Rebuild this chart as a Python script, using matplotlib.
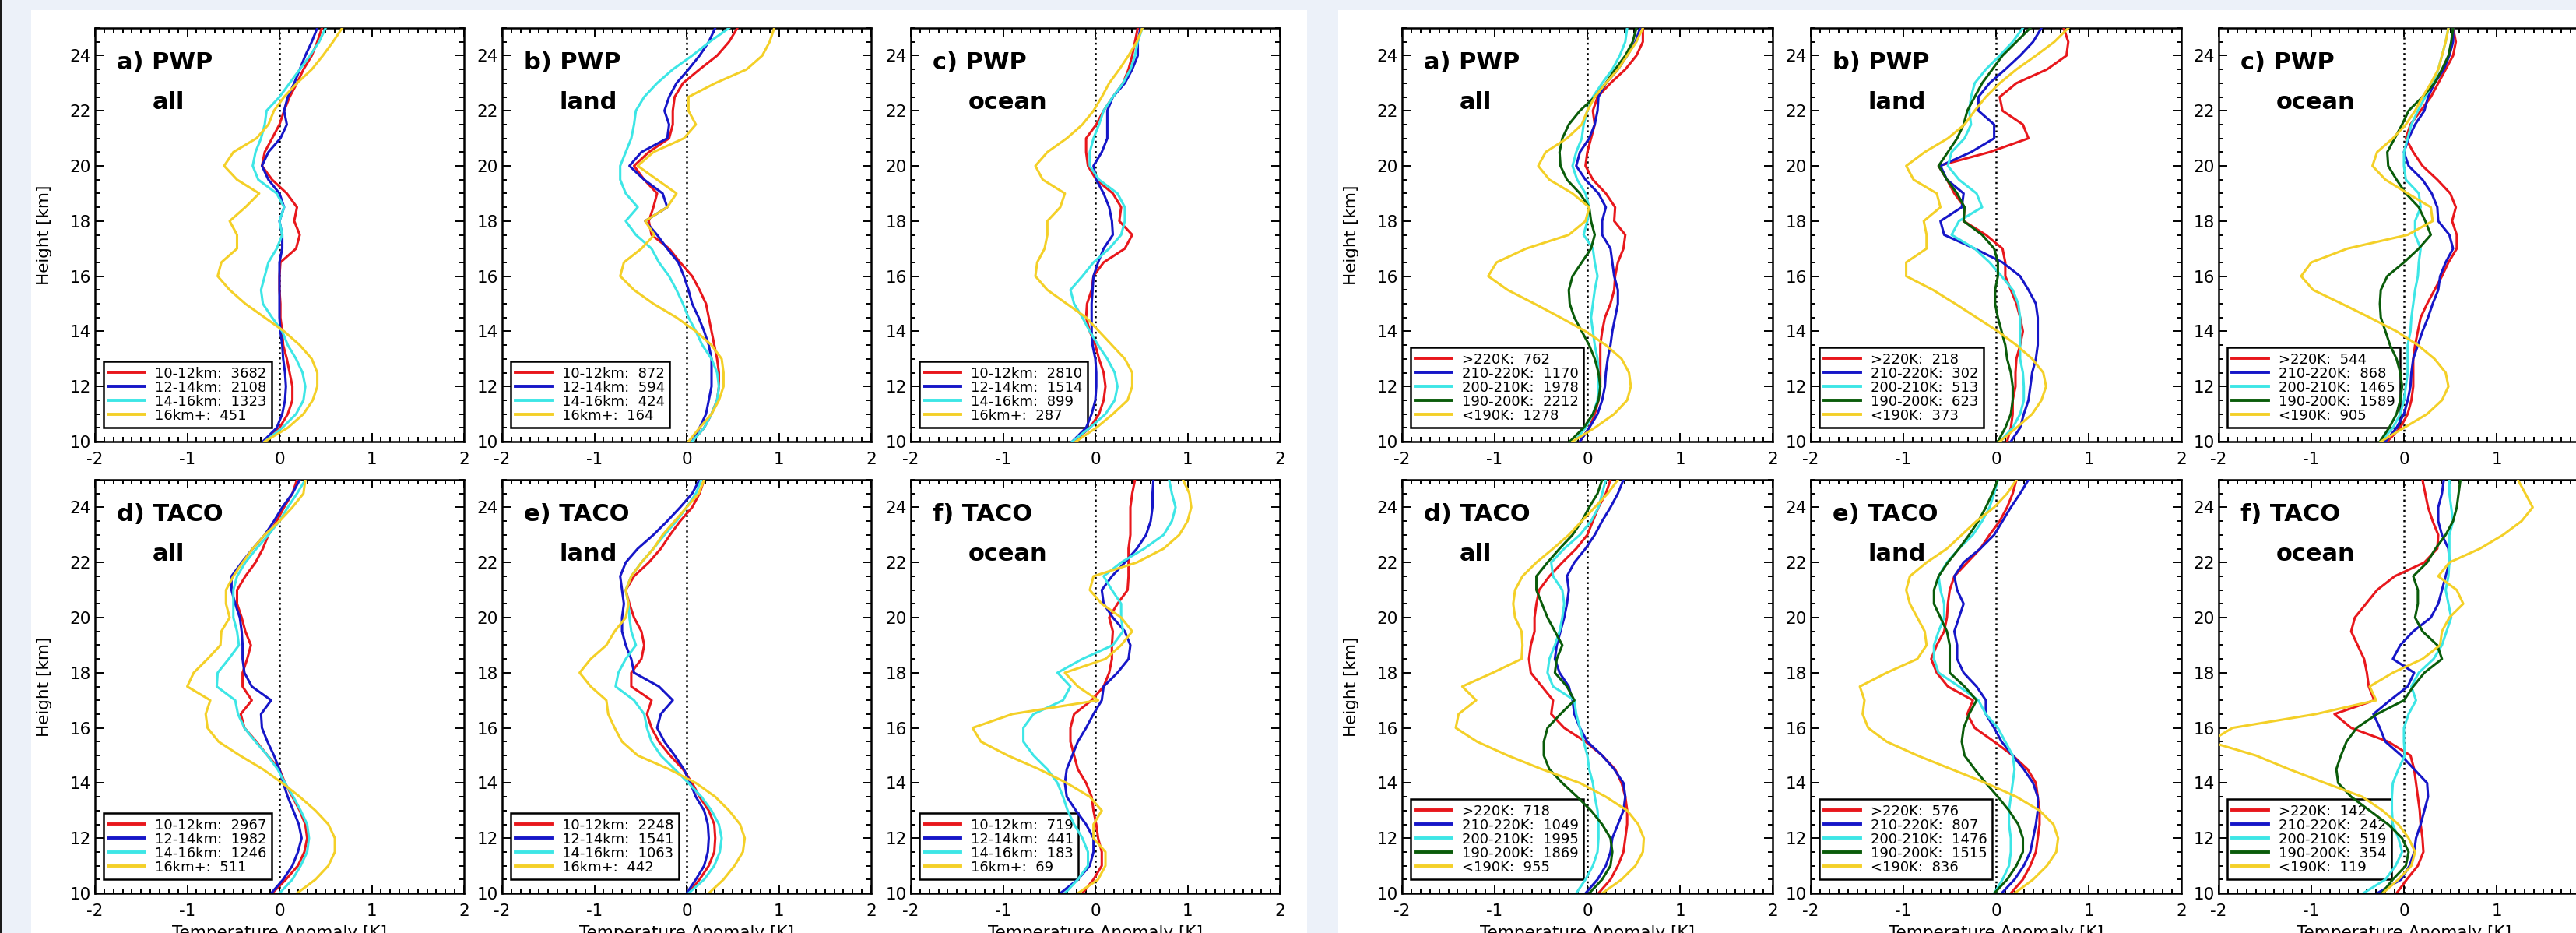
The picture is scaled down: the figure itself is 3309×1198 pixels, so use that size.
import matplotlib
matplotlib.use('Agg')
import matplotlib.pyplot as plt
from matplotlib.patches import Rectangle
from matplotlib.ticker import MultipleLocator

plt.rcParams['font.family'] = 'DejaVu Sans'
plt.rcParams['axes.unicode_minus'] = False

W, H = 3309, 1198

# sampling heights [km]
height = [10.0, 10.5, 11.0, 11.5, 12.0, 12.5, 13.0, 13.5, 14.0, 14.5, 15.0,
          15.5, 16.0, 16.5, 17.0, 17.5, 18.0, 18.5, 19.0, 19.5, 20.0, 20.5,
          21.0, 21.5, 22.0, 22.5, 23.0, 23.5, 24.0, 24.5, 25.0]

# ---- left group: binned by cloud-top height ----
ht_labels = ['10-12km', '12-14km', '14-16km', '16km+']

ht_pwp_all_10_12 = [-0.16, 0, 0.09, 0.14, 0.14, 0.11, 0.08, 0.04, 0.03, 0.01, 0.01, 0, 0, 0.01, 0.18, 0.22, 0.16, 0.19, 0.08, -0.08, -0.19, -0.16, -0.08, 0, 0.05, 0.11, 0.19, 0.26, 0.35, 0.41, 0.46]
ht_pwp_all_12_14 = [-0.18, -0.03, 0.03, 0.06, 0.07, 0.06, 0.04, 0.03, 0.01, 0, 0, 0, 0, 0, 0.03, 0.03, 0, 0.05, 0, -0.12, -0.19, -0.12, 0.01, 0.08, 0.05, 0.09, 0.16, 0.22, 0.28, 0.35, 0.41]
ht_pwp_all_14_16 = [-0.16, 0.03, 0.18, 0.26, 0.28, 0.25, 0.18, 0.09, 0.03, -0.08, -0.18, -0.2, -0.16, -0.12, -0.03, 0.03, 0, 0.05, -0.03, -0.23, -0.29, -0.26, -0.2, -0.16, -0.14, 0, 0.11, 0.22, 0.33, 0.43, 0.5]
ht_pwp_all_16p = [-0.16, 0.09, 0.26, 0.36, 0.41, 0.41, 0.35, 0.22, 0.05, -0.16, -0.37, -0.54, -0.67, -0.63, -0.46, -0.46, -0.54, -0.37, -0.22, -0.46, -0.6, -0.5, -0.25, -0.12, -0.06, 0.05, 0.19, 0.35, 0.47, 0.58, 0.68]
ht_pwp_all_n = [3682, 2108, 1323, 451]

ht_pwp_land_10_12 = [0.06, 0.19, 0.27, 0.33, 0.35, 0.35, 0.33, 0.3, 0.27, 0.24, 0.21, 0.14, 0.06, -0.07, -0.19, -0.38, -0.41, -0.36, -0.32, -0.46, -0.57, -0.41, -0.19, -0.15, -0.15, -0.13, -0.04, 0.14, 0.33, 0.46, 0.55]
ht_pwp_land_12_14 = [0.06, 0.14, 0.21, 0.24, 0.27, 0.27, 0.27, 0.24, 0.19, 0.13, 0.06, 0.02, -0.03, -0.09, -0.21, -0.32, -0.45, -0.21, -0.26, -0.46, -0.62, -0.49, -0.21, -0.19, -0.24, -0.19, -0.11, 0.02, 0.14, 0.24, 0.31]
ht_pwp_land_14_16 = [0.06, 0.19, 0.27, 0.33, 0.35, 0.33, 0.27, 0.17, 0.1, 0.02, -0.04, -0.11, -0.19, -0.3, -0.38, -0.55, -0.66, -0.53, -0.66, -0.72, -0.72, -0.66, -0.6, -0.57, -0.55, -0.46, -0.32, -0.15, 0.06, 0.25, 0.46]
ht_pwp_land_16p = [0.02, 0.14, 0.27, 0.35, 0.4, 0.4, 0.38, 0.27, 0.1, -0.11, -0.36, -0.57, -0.72, -0.68, -0.49, -0.35, -0.45, -0.21, -0.11, -0.32, -0.53, -0.36, -0.03, 0.1, 0.02, 0.02, 0.31, 0.65, 0.82, 0.9, 0.95]
ht_pwp_land_n = [872, 594, 424, 164]

ht_pwp_ocean_10_12 = [-0.23, -0.06, 0.04, 0.09, 0.11, 0.09, 0.04, 0, -0.06, -0.1, -0.09, -0.04, -0.02, 0.09, 0.32, 0.4, 0.26, 0.28, 0.19, 0.01, -0.08, -0.1, -0.1, 0.01, 0.09, 0.19, 0.3, 0.36, 0.4, 0.43, 0.46]
ht_pwp_ocean_12_14 = [-0.25, -0.1, -0.04, 0, 0.01, 0.01, 0, -0.03, -0.04, -0.04, -0.04, -0.03, -0.02, 0.03, 0.09, 0.19, 0.18, 0.15, 0.09, 0.01, -0.02, 0.07, 0.13, 0.13, 0.13, 0.19, 0.32, 0.4, 0.46, 0.46, 0.49]
ht_pwp_ocean_14_16 = [-0.25, -0.06, 0.11, 0.21, 0.24, 0.21, 0.13, 0.03, -0.06, -0.14, -0.23, -0.27, -0.14, -0.02, 0.15, 0.28, 0.32, 0.32, 0.24, 0.04, -0.06, -0.06, -0.02, 0.04, 0.09, 0.19, 0.3, 0.38, 0.43, 0.46, 0.51]
ht_pwp_ocean_16p = [-0.21, 0.01, 0.19, 0.35, 0.4, 0.4, 0.32, 0.18, 0.04, -0.1, -0.31, -0.52, -0.65, -0.63, -0.55, -0.52, -0.52, -0.38, -0.33, -0.57, -0.65, -0.52, -0.31, -0.14, -0.02, 0.07, 0.15, 0.26, 0.36, 0.45, 0.51]
ht_pwp_ocean_n = [2810, 1514, 899, 287]

ht_taco_all_10_12 = [-0.08, 0.07, 0.2, 0.27, 0.3, 0.28, 0.22, 0.14, 0.06, 0, -0.13, -0.25, -0.38, -0.42, -0.3, -0.4, -0.4, -0.35, -0.31, -0.37, -0.41, -0.46, -0.46, -0.37, -0.26, -0.18, -0.12, -0.03, 0.05, 0.14, 0.19]
ht_taco_all_12_14 = [-0.09, 0.04, 0.14, 0.2, 0.24, 0.21, 0.15, 0.09, 0.04, 0, -0.06, -0.13, -0.19, -0.2, -0.09, -0.3, -0.38, -0.4, -0.4, -0.41, -0.43, -0.48, -0.52, -0.52, -0.41, -0.29, -0.16, -0.06, 0.03, 0.14, 0.22]
ht_taco_all_14_16 = [0, 0.14, 0.23, 0.3, 0.32, 0.3, 0.23, 0.15, 0.06, -0.02, -0.13, -0.26, -0.38, -0.45, -0.48, -0.68, -0.67, -0.55, -0.44, -0.46, -0.5, -0.5, -0.5, -0.46, -0.37, -0.25, -0.12, 0, 0.09, 0.19, 0.28]
ht_taco_all_16p = [0.19, 0.39, 0.53, 0.6, 0.6, 0.53, 0.39, 0.22, 0.03, -0.18, -0.43, -0.66, -0.78, -0.8, -0.75, -1.0, -0.93, -0.78, -0.64, -0.63, -0.54, -0.58, -0.58, -0.5, -0.4, -0.29, -0.16, 0, 0.14, 0.26, 0.28]
ht_taco_all_n = [2967, 1982, 1246, 511]

ht_taco_land_10_12 = [0.02, 0.14, 0.24, 0.3, 0.31, 0.3, 0.24, 0.14, 0.06, -0.04, -0.18, -0.3, -0.38, -0.43, -0.38, -0.6, -0.6, -0.49, -0.46, -0.49, -0.57, -0.62, -0.66, -0.57, -0.41, -0.28, -0.18, -0.07, 0.06, 0.14, 0.19]
ht_taco_land_12_14 = [0, 0.1, 0.19, 0.23, 0.24, 0.23, 0.19, 0.1, 0.04, -0.03, -0.13, -0.24, -0.32, -0.28, -0.15, -0.3, -0.57, -0.6, -0.66, -0.7, -0.7, -0.68, -0.7, -0.72, -0.66, -0.53, -0.36, -0.21, -0.07, 0.06, 0.14]
ht_taco_land_14_16 = [0.02, 0.19, 0.3, 0.36, 0.38, 0.35, 0.27, 0.16, 0.02, -0.13, -0.28, -0.38, -0.43, -0.46, -0.57, -0.77, -0.74, -0.66, -0.55, -0.6, -0.62, -0.63, -0.66, -0.6, -0.49, -0.36, -0.24, -0.11, 0, 0.1, 0.16]
ht_taco_land_16p = [0.24, 0.4, 0.52, 0.61, 0.63, 0.58, 0.46, 0.31, 0.1, -0.19, -0.53, -0.7, -0.78, -0.85, -0.87, -1.04, -1.16, -1.04, -0.87, -0.78, -0.66, -0.63, -0.66, -0.6, -0.49, -0.36, -0.26, -0.13, 0, 0.13, 0.19]
ht_taco_land_n = [2248, 1541, 1063, 442]

ht_taco_ocean_10_12 = [-0.14, -0.02, 0.07, 0.07, 0.03, 0.01, -0.02, -0.04, -0.1, -0.19, -0.23, -0.27, -0.27, -0.23, -0.04, 0.09, 0.15, 0.18, 0.18, 0.19, 0.15, 0.24, 0.35, 0.36, 0.36, 0.36, 0.38, 0.38, 0.38, 0.4, 0.43]
ht_taco_ocean_12_14 = [-0.38, -0.19, -0.06, -0.02, -0.02, -0.1, -0.21, -0.31, -0.33, -0.31, -0.25, -0.19, -0.1, -0.02, 0.07, 0.09, 0.24, 0.36, 0.38, 0.32, 0.19, 0.09, 0.07, 0.18, 0.32, 0.45, 0.55, 0.6, 0.62, 0.62, 0.63]
ht_taco_ocean_14_16 = [-0.33, -0.19, -0.08, -0.08, -0.14, -0.23, -0.3, -0.35, -0.41, -0.52, -0.67, -0.78, -0.78, -0.67, -0.35, -0.27, -0.41, -0.14, 0.19, 0.3, 0.28, 0.28, 0.18, 0.09, 0.28, 0.53, 0.74, 0.83, 0.87, 0.83, 0.8]
ht_taco_ocean_16p = [-0.19, 0.03, 0.11, 0.11, -0.02, -0.02, 0.07, -0.06, -0.31, -0.61, -0.95, -1.24, -1.33, -0.9, 0.03, -0.19, -0.33, 0.11, 0.28, 0.4, 0.28, 0.07, -0.06, -0.02, 0.45, 0.74, 0.91, 1.0, 1.04, 1.02, 0.95]
ht_taco_ocean_n = [719, 441, 183, 69]

# ---- right group: binned by cloud-top temperature ----
tb_labels = ['>220K', '210-220K', '200-210K', '190-200K', '<190K']

tb_pwp_all_gt220 = [-0.08, 0.02, 0.08, 0.12, 0.14, 0.14, 0.14, 0.14, 0.16, 0.19, 0.25, 0.29, 0.3, 0.33, 0.39, 0.41, 0.29, 0.3, 0.2, 0.06, -0.02, 0, 0.04, 0.08, 0.06, 0.11, 0.25, 0.41, 0.53, 0.6, 0.6]
tb_pwp_all_210_220 = [-0.08, 0.02, 0.11, 0.16, 0.19, 0.2, 0.22, 0.25, 0.27, 0.3, 0.33, 0.33, 0.29, 0.27, 0.25, 0.16, 0.16, 0.2, 0.12, -0.02, -0.12, -0.08, 0.02, 0.08, 0.11, 0.12, 0.2, 0.33, 0.43, 0.52, 0.57]
tb_pwp_all_200_210 = [-0.14, -0.02, 0.06, 0.11, 0.12, 0.12, 0.11, 0.08, 0.06, 0.04, 0.06, 0.08, 0.11, 0.08, 0.06, -0.04, 0, 0.02, -0.02, -0.11, -0.16, -0.12, -0.06, -0.04, 0, 0.06, 0.16, 0.27, 0.35, 0.41, 0.43]
tb_pwp_all_190_200 = [-0.19, -0.04, 0.06, 0.12, 0.14, 0.12, 0.08, 0.02, -0.06, -0.14, -0.19, -0.2, -0.16, -0.06, 0.04, 0.08, 0.04, 0.02, -0.08, -0.22, -0.29, -0.3, -0.27, -0.2, -0.08, 0.08, 0.2, 0.3, 0.41, 0.49, 0.53]
tb_pwp_all_lt190 = [-0.16, 0.08, 0.29, 0.43, 0.47, 0.45, 0.37, 0.2, -0.02, -0.29, -0.57, -0.86, -1.07, -0.98, -0.66, -0.2, -0.02, 0.02, -0.16, -0.41, -0.53, -0.45, -0.22, -0.06, 0, 0.08, 0.2, 0.33, 0.43, 0.53, 0.6]
tb_pwp_all_n = [762, 1170, 1978, 2212, 1278]

tb_pwp_land_gt220 = [0.12, 0.16, 0.18, 0.18, 0.21, 0.21, 0.22, 0.26, 0.29, 0.26, 0.22, 0.16, 0.1, 0.1, 0.07, -0.11, -0.35, -0.34, -0.45, -0.53, -0.62, -0.07, 0.35, 0.29, 0.07, 0.04, 0.22, 0.55, 0.76, 0.78, 0.73]
tb_pwp_land_210_220 = [0.16, 0.26, 0.3, 0.35, 0.37, 0.39, 0.43, 0.45, 0.45, 0.45, 0.43, 0.35, 0.26, 0.07, -0.23, -0.56, -0.6, -0.37, -0.35, -0.53, -0.6, -0.27, -0.02, -0.02, -0.19, -0.19, -0.07, 0.1, 0.26, 0.4, 0.49]
tb_pwp_land_200_210 = [0.04, 0.18, 0.26, 0.3, 0.3, 0.29, 0.26, 0.26, 0.26, 0.26, 0.24, 0.18, 0.06, -0.07, -0.23, -0.48, -0.4, -0.15, -0.21, -0.4, -0.52, -0.48, -0.34, -0.27, -0.29, -0.27, -0.23, -0.11, 0.04, 0.18, 0.29]
tb_pwp_land_190_200 = [0.02, 0.1, 0.16, 0.18, 0.18, 0.16, 0.12, 0.1, 0.06, 0.02, -0.01, -0.01, 0.02, 0.02, -0.02, -0.15, -0.35, -0.34, -0.42, -0.53, -0.62, -0.52, -0.42, -0.35, -0.31, -0.23, -0.15, -0.04, 0.07, 0.22, 0.37]
tb_pwp_land_lt190 = [0.04, 0.22, 0.39, 0.49, 0.54, 0.51, 0.39, 0.22, 0.02, -0.21, -0.44, -0.68, -0.97, -0.97, -0.75, -0.75, -0.78, -0.6, -0.64, -0.89, -0.97, -0.77, -0.52, -0.34, -0.23, -0.11, 0.04, 0.22, 0.43, 0.63, 0.78]
tb_pwp_land_n = [218, 302, 513, 623, 373]

tb_pwp_ocean_gt220 = [-0.18, -0.04, 0.04, 0.08, 0.1, 0.1, 0.1, 0.12, 0.15, 0.18, 0.25, 0.33, 0.41, 0.48, 0.57, 0.57, 0.52, 0.56, 0.5, 0.36, 0.2, 0.1, 0.02, 0.07, 0.18, 0.29, 0.37, 0.45, 0.53, 0.56, 0.53]
tb_pwp_ocean_210_220 = [-0.2, -0.08, 0, 0.04, 0.07, 0.08, 0.1, 0.15, 0.2, 0.26, 0.31, 0.37, 0.39, 0.45, 0.53, 0.49, 0.37, 0.36, 0.3, 0.2, 0.05, 0, 0.05, 0.12, 0.22, 0.26, 0.33, 0.43, 0.49, 0.53, 0.53]
tb_pwp_ocean_200_210 = [-0.25, -0.12, -0.04, 0, 0.02, 0.04, 0.04, 0.04, 0.07, 0.08, 0.1, 0.12, 0.15, 0.16, 0.18, 0.12, 0.12, 0.18, 0.16, 0.02, 0, 0, 0.04, 0.08, 0.15, 0.23, 0.31, 0.37, 0.41, 0.45, 0.48]
tb_pwp_ocean_190_200 = [-0.26, -0.16, -0.08, -0.04, -0.02, -0.04, -0.08, -0.15, -0.2, -0.25, -0.26, -0.25, -0.18, 0, 0.16, 0.29, 0.23, 0.16, 0.02, -0.08, -0.17, -0.18, -0.1, -0.02, 0.05, 0.2, 0.33, 0.41, 0.48, 0.51, 0.53]
tb_pwp_ocean_lt190 = [-0.25, 0, 0.25, 0.41, 0.48, 0.45, 0.33, 0.15, -0.08, -0.37, -0.67, -0.98, -1.11, -1.0, -0.61, 0.04, 0.31, 0.29, 0.04, -0.2, -0.34, -0.29, -0.12, 0.02, 0.12, 0.2, 0.29, 0.37, 0.41, 0.45, 0.48]
tb_pwp_ocean_n = [544, 868, 1465, 1589, 905]

tb_taco_all_gt220 = [0.12, 0.25, 0.33, 0.39, 0.41, 0.43, 0.43, 0.41, 0.37, 0.3, 0.16, -0.02, -0.25, -0.39, -0.37, -0.49, -0.61, -0.63, -0.61, -0.57, -0.57, -0.55, -0.52, -0.41, -0.27, -0.12, 0, 0.06, 0.12, 0.2, 0.25]
tb_taco_all_210_220 = [-0.02, 0.11, 0.2, 0.25, 0.27, 0.33, 0.39, 0.41, 0.39, 0.29, 0.16, 0, -0.08, -0.14, -0.16, -0.2, -0.3, -0.35, -0.33, -0.29, -0.25, -0.22, -0.2, -0.22, -0.14, -0.02, 0.08, 0.16, 0.25, 0.33, 0.39]
tb_taco_all_200_210 = [-0.12, -0.02, 0.06, 0.11, 0.12, 0.12, 0.11, 0.08, 0.06, 0.02, 0, -0.04, -0.08, -0.12, -0.14, -0.37, -0.43, -0.41, -0.35, -0.3, -0.27, -0.25, -0.27, -0.37, -0.39, -0.25, -0.08, 0.04, 0.12, 0.16, 0.2]
tb_taco_all_190_200 = [0.02, 0.16, 0.25, 0.27, 0.25, 0.16, 0.04, -0.11, -0.27, -0.41, -0.47, -0.47, -0.43, -0.29, -0.14, -0.22, -0.35, -0.33, -0.27, -0.35, -0.43, -0.49, -0.55, -0.55, -0.43, -0.3, -0.16, -0.06, 0.02, 0.11, 0.16]
tb_taco_all_lt190 = [0.16, 0.37, 0.52, 0.6, 0.61, 0.55, 0.43, 0.2, -0.08, -0.49, -0.86, -1.19, -1.42, -1.39, -1.2, -1.35, -1.02, -0.71, -0.7, -0.71, -0.78, -0.8, -0.78, -0.7, -0.55, -0.37, -0.2, -0.06, 0.08, 0.22, 0.33]
tb_taco_all_n = [718, 1049, 1995, 1869, 955]

tb_taco_land_gt220 = [0.16, 0.29, 0.37, 0.43, 0.45, 0.47, 0.47, 0.45, 0.43, 0.34, 0.18, -0.02, -0.23, -0.31, -0.25, -0.52, -0.64, -0.7, -0.64, -0.56, -0.53, -0.52, -0.5, -0.45, -0.31, -0.17, -0.07, 0.04, 0.12, 0.18, 0.22]
tb_taco_land_210_220 = [0.06, 0.2, 0.3, 0.37, 0.4, 0.43, 0.45, 0.45, 0.4, 0.3, 0.18, 0.06, -0.02, -0.11, -0.11, -0.21, -0.35, -0.42, -0.42, -0.45, -0.4, -0.35, -0.42, -0.45, -0.35, -0.17, -0.02, 0.07, 0.16, 0.26, 0.35]
tb_taco_land_200_210 = [-0.02, 0.07, 0.14, 0.16, 0.16, 0.14, 0.14, 0.16, 0.18, 0.2, 0.18, 0.1, 0.02, -0.11, -0.19, -0.4, -0.62, -0.67, -0.67, -0.62, -0.56, -0.56, -0.6, -0.62, -0.53, -0.4, -0.25, -0.15, -0.07, -0.02, 0.02]
tb_taco_land_190_200 = [-0.02, 0.12, 0.22, 0.29, 0.29, 0.24, 0.14, 0.02, -0.11, -0.23, -0.34, -0.37, -0.35, -0.29, -0.21, -0.34, -0.5, -0.5, -0.5, -0.53, -0.6, -0.67, -0.67, -0.62, -0.52, -0.4, -0.29, -0.19, -0.11, -0.04, 0.02]
tb_taco_land_lt190 = [0.2, 0.4, 0.55, 0.65, 0.67, 0.62, 0.47, 0.22, -0.11, -0.48, -0.85, -1.18, -1.38, -1.44, -1.42, -1.47, -1.18, -0.85, -0.75, -0.77, -0.85, -0.93, -0.97, -0.93, -0.75, -0.53, -0.37, -0.21, -0.02, 0.12, 0.22]
tb_taco_land_n = [576, 807, 1476, 1515, 836]

tb_taco_ocean_gt220 = [-0.08, 0.03, 0.15, 0.21, 0.2, 0.18, 0.17, 0.15, 0.13, 0.11, 0.07, -0.17, -0.57, -0.75, -0.32, -0.38, -0.4, -0.43, -0.5, -0.57, -0.53, -0.41, -0.29, -0.1, 0.22, 0.36, 0.37, 0.31, 0.26, 0.23, 0.2]
tb_taco_ocean_210_220 = [-0.29, -0.03, 0.06, 0.11, 0.13, 0.18, 0.22, 0.26, 0.25, 0.11, -0.03, -0.2, -0.26, -0.33, -0.15, 0.04, 0.11, -0.12, -0.04, 0.1, 0.29, 0.37, 0.41, 0.45, 0.49, 0.48, 0.41, 0.37, 0.37, 0.41, 0.43]
tb_taco_ocean_200_210 = [-0.44, -0.2, -0.09, -0.02, -0.06, -0.12, -0.13, -0.13, -0.12, -0.06, 0.01, 0, 0, 0.05, 0.13, 0.08, 0.16, 0.32, 0.41, 0.46, 0.51, 0.48, 0.45, 0.48, 0.49, 0.49, 0.49, 0.53, 0.51, 0.49, 0.49]
tb_taco_ocean_190_200 = [-0.24, -0.12, 0.02, 0.05, -0.02, -0.17, -0.37, -0.57, -0.71, -0.73, -0.68, -0.62, -0.51, -0.29, 0, 0.1, 0.22, 0.41, 0.36, 0.2, 0.12, 0.15, 0.15, 0.1, 0.25, 0.34, 0.45, 0.53, 0.57, 0.59, 0.61]
tb_taco_ocean_lt190 = [-0.23, -0.06, 0.08, 0.12, 0.05, -0.06, -0.23, -0.45, -0.85, -1.24, -1.6, -2.1, -1.85, -0.95, -0.3, -0.37, -0.12, 0.2, 0.39, 0.41, 0.49, 0.64, 0.57, 0.37, 0.49, 0.82, 1.07, 1.27, 1.39, 1.31, 1.23]
tb_taco_ocean_n = [142, 242, 519, 354, 119]

titles = [('a) PWP', 'all'), ('b) PWP', 'land'), ('c) PWP', 'ocean'),
          ('d) TACO', 'all'), ('e) TACO', 'land'), ('f) TACO', 'ocean')]

RED, BLUE, CYAN, GREEN, YELLOW = '#e8171c', '#1616c8', '#3de6e6', '#0a5c0a', '#f4d028'
ht_colors = [RED, BLUE, CYAN, YELLOW]
tb_colors = [RED, BLUE, CYAN, GREEN, YELLOW]

ht_series = [
    ([ht_pwp_all_10_12, ht_pwp_all_12_14, ht_pwp_all_14_16, ht_pwp_all_16p], ht_pwp_all_n),
    ([ht_pwp_land_10_12, ht_pwp_land_12_14, ht_pwp_land_14_16, ht_pwp_land_16p], ht_pwp_land_n),
    ([ht_pwp_ocean_10_12, ht_pwp_ocean_12_14, ht_pwp_ocean_14_16, ht_pwp_ocean_16p], ht_pwp_ocean_n),
    ([ht_taco_all_10_12, ht_taco_all_12_14, ht_taco_all_14_16, ht_taco_all_16p], ht_taco_all_n),
    ([ht_taco_land_10_12, ht_taco_land_12_14, ht_taco_land_14_16, ht_taco_land_16p], ht_taco_land_n),
    ([ht_taco_ocean_10_12, ht_taco_ocean_12_14, ht_taco_ocean_14_16, ht_taco_ocean_16p], ht_taco_ocean_n),
]
tb_series = [
    ([tb_pwp_all_gt220, tb_pwp_all_210_220, tb_pwp_all_200_210, tb_pwp_all_190_200, tb_pwp_all_lt190], tb_pwp_all_n),
    ([tb_pwp_land_gt220, tb_pwp_land_210_220, tb_pwp_land_200_210, tb_pwp_land_190_200, tb_pwp_land_lt190], tb_pwp_land_n),
    ([tb_pwp_ocean_gt220, tb_pwp_ocean_210_220, tb_pwp_ocean_200_210, tb_pwp_ocean_190_200, tb_pwp_ocean_lt190], tb_pwp_ocean_n),
    ([tb_taco_all_gt220, tb_taco_all_210_220, tb_taco_all_200_210, tb_taco_all_190_200, tb_taco_all_lt190], tb_taco_all_n),
    ([tb_taco_land_gt220, tb_taco_land_210_220, tb_taco_land_200_210, tb_taco_land_190_200, tb_taco_land_lt190], tb_taco_land_n),
    ([tb_taco_ocean_gt220, tb_taco_ocean_210_220, tb_taco_ocean_200_210, tb_taco_ocean_190_200, tb_taco_ocean_lt190], tb_taco_ocean_n),
]


def add_axes_px(fig, left, top, width, hgt):
    return fig.add_axes([left / W, 1 - (top + hgt) / H, width / W, hgt / H])


def draw_panel(ax, series, counts, labels, colors, title, sub, row, col, axw, axh):
    for vals, lab, n, c in zip(series, labels, counts, colors):
        ax.plot(vals, height, color=c, lw=2.2, label=f'{lab}:  {n}', zorder=3)
    ax.axvline(0, color='black', lw=1.8, ls=':', zorder=2)
    ax.set_xlim(-2, 2)
    ax.set_ylim(10, 25)
    ax.xaxis.set_major_locator(MultipleLocator(1))
    ax.xaxis.set_minor_locator(MultipleLocator(0.1))
    ax.yaxis.set_major_locator(MultipleLocator(2))
    ax.yaxis.set_minor_locator(MultipleLocator(0.5))
    ax.tick_params(which='both', direction='in', top=True, right=True,
                   width=1.4, labelsize=15.5)
    ax.tick_params(which='major', length=8)
    ax.tick_params(which='minor', length=4.3)
    ax.tick_params(axis='x', pad=9)
    ax.tick_params(axis='y', pad=3.5)
    for s in ax.spines.values():
        s.set_linewidth(1.8)

    ax.text(0.059, 0.9, title, transform=ax.transAxes, fontsize=22,
            fontweight='bold', va='baseline', ha='left')
    ax.text(0.155, 0.805, sub, transform=ax.transAxes, fontsize=22,
            fontweight='bold', va='baseline', ha='left')

    leg = ax.legend(loc='lower left', bbox_to_anchor=(11 / axw, 18 / axh),
                    borderaxespad=0, fontsize=13.0, fancybox=False,
                    edgecolor='black', facecolor='none', framealpha=1,
                    borderpad=0.35, labelspacing=0.0, handlelength=2.6,
                    handletextpad=0.7)
    leg.get_frame().set_linewidth(1.8)
    leg.set_zorder(2.5)
    for line in leg.get_lines():
        line.set_linewidth(2.8)

    if col == 0:
        ax.set_ylabel('Height [km]', fontsize=15.5, va='center')
        ax.yaxis.set_label_coords(-0.137, 0.5)
    if row == 1:
        ax.set_xlabel('Temperature Anomaly [K]', fontsize=15.5)
        ax.xaxis.set_label_coords(0.5, -0.077)


fig = plt.figure(figsize=(W / 100, H / 100), dpi=100)
fig.patch.set_facecolor('#ecf1f9')
fig.add_artist(Rectangle((40 / W, 0), (1679 - 40) / W, (H - 13) / H,
                         transform=fig.transFigure, facecolor='white',
                         edgecolor='none', zorder=-2))
fig.add_artist(Rectangle((1719 / W, 0), (W - 1719) / W, (H - 13) / H,
                         transform=fig.transFigure, facecolor='white',
                         edgecolor='none', zorder=-2))
fig.add_artist(Rectangle((0, 0), 3 / W, 1, transform=fig.transFigure,
                         facecolor='#1b1b1b', edgecolor='none', zorder=-1))

row_tops = [36, 616]
row_h = 531
left_cols = [122, 645, 1170]
right_cols = [1801, 2326, 2850]

for i, (series, counts) in enumerate(ht_series):
    r, c = divmod(i, 3)
    ax = add_axes_px(fig, left_cols[c], row_tops[r], 474, row_h)
    draw_panel(ax, series, counts, ht_labels, ht_colors, titles[i][0],
               titles[i][1], r, c, 474, row_h)

for i, (series, counts) in enumerate(tb_series):
    r, c = divmod(i, 3)
    ax = add_axes_px(fig, right_cols[c], row_tops[r], 476, row_h)
    draw_panel(ax, series, counts, tb_labels, tb_colors, titles[i][0],
               titles[i][1], r, c, 476, row_h)

fig.savefig('out.png', dpi=100, facecolor=fig.get_facecolor())
